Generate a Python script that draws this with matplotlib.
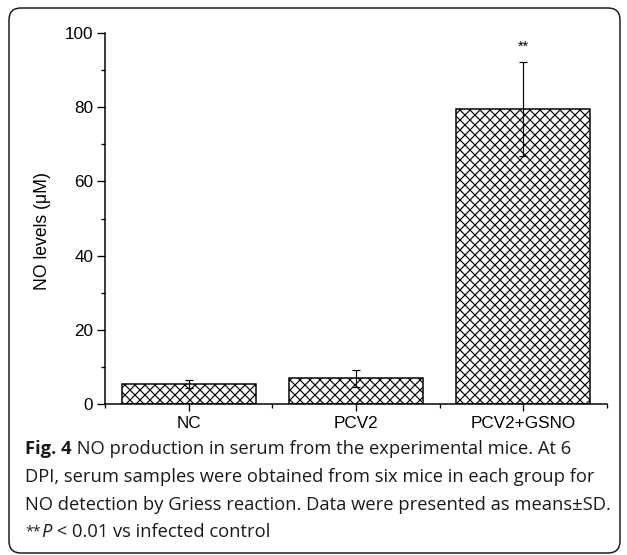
import matplotlib.pyplot as plt
import numpy as np
from matplotlib.patches import FancyBboxPatch
from matplotlib.ticker import FixedLocator, MultipleLocator

groups = ["NC", "PCV2", "PCV2+GSNO"]
no_levels = [5.3, 6.9, 79.6]
no_sd = [1.1, 2.3, 12.7]

DPI = 120
W, H = 627, 555

plt.rcParams["hatch.linewidth"] = 0.7
plt.rcParams["font.family"] = ["Liberation Sans", "DejaVu Sans"]

fig = plt.figure(figsize=(W / DPI, H / DPI), dpi=DPI)

# axes placed to match the reference pixel layout
ax = fig.add_axes([105 / W, 1 - 404 / H, (607 - 105) / W, (404 - 33) / H])

x = np.arange(1, len(groups) + 1)
ax.bar(x, no_levels, width=0.8, color="white", edgecolor="black",
       hatch="xxxx", linewidth=0.9, zorder=2)
ax.errorbar(x, no_levels, yerr=no_sd, fmt="none", ecolor="black",
            elinewidth=0.7, capsize=2.2, capthick=0.7, zorder=3)
ax.text(x[2], 96.2, "**", ha="center", va="center", fontsize=8.5)

ax.set_xlim(0.5, 3.5)
ax.set_ylim(0, 100)
ax.set_xticks(x)
ax.set_xticklabels(groups, fontsize=10.3)
ax.xaxis.set_minor_locator(FixedLocator([0.5, 1.5, 2.5, 3.5]))
ax.yaxis.set_major_locator(MultipleLocator(20))
ax.yaxis.set_minor_locator(MultipleLocator(10))
ax.tick_params(axis="y", which="major", length=5, width=0.8, labelsize=10.3, pad=2)
ax.tick_params(axis="y", which="minor", length=2.5, width=0.8)
ax.tick_params(axis="x", which="major", length=4, width=0.8, pad=3)
ax.tick_params(axis="x", which="minor", length=2.5, width=0.8)
ax.set_ylabel("NO levels (\u03bcM)", fontsize=10.6)
ax.yaxis.set_label_coords(-0.108, 0.466)

for side in ["top", "right"]:
    ax.spines[side].set_visible(False)
for side in ["left", "bottom"]:
    ax.spines[side].set_linewidth(0.9)

# rounded frame around figure + caption
frame = FancyBboxPatch((9 / DPI, 2 / DPI), 611 / DPI, 545 / DPI,
                       boxstyle="round,pad=0,rounding_size=0.1",
                       transform=fig.dpi_scale_trans, facecolor="none",
                       edgecolor="#1a1a1a", linewidth=0.9)
fig.patches.append(frame)

cap_font = dict(family=["Open Sans", "DejaVu Sans"], fontsize=11.0, color="#1a1a1a")
x0 = 25 / W
baselines = [454, 482, 510, 537]

t = fig.text(x0, 1 - baselines[0] / H, "Fig. 4", fontweight="bold", va="baseline", **cap_font)
ax.annotate(" NO production in serum from the experimental mice. At 6",
            xy=(1, 0), xycoords=t, va="bottom", annotation_clip=False, **cap_font)
fig.text(x0, 1 - baselines[1] / H,
         "DPI, serum samples were obtained from six mice in each group for",
         va="baseline", **cap_font)
fig.text(x0, 1 - baselines[2] / H,
         "NO detection by Griess reaction. Data were presented as means\u00b1SD.",
         va="baseline", **cap_font)
small = dict(cap_font, fontsize=8.5)
t2 = fig.text(x0, 1 - (baselines[3] - 2) / H, "**", va="baseline", **small)
renderer = fig.canvas.get_renderer()
bb = t2.get_window_extent(renderer)
t3 = fig.text((bb.x1 + 1) / W, 1 - baselines[3] / H, "P", va="baseline",
              style="italic", **cap_font)
ax.annotate(" < 0.01 vs infected control", xy=(1, 0), xycoords=t3, va="bottom",
            annotation_clip=False, **cap_font)

fig.savefig("out.png", dpi=DPI)
